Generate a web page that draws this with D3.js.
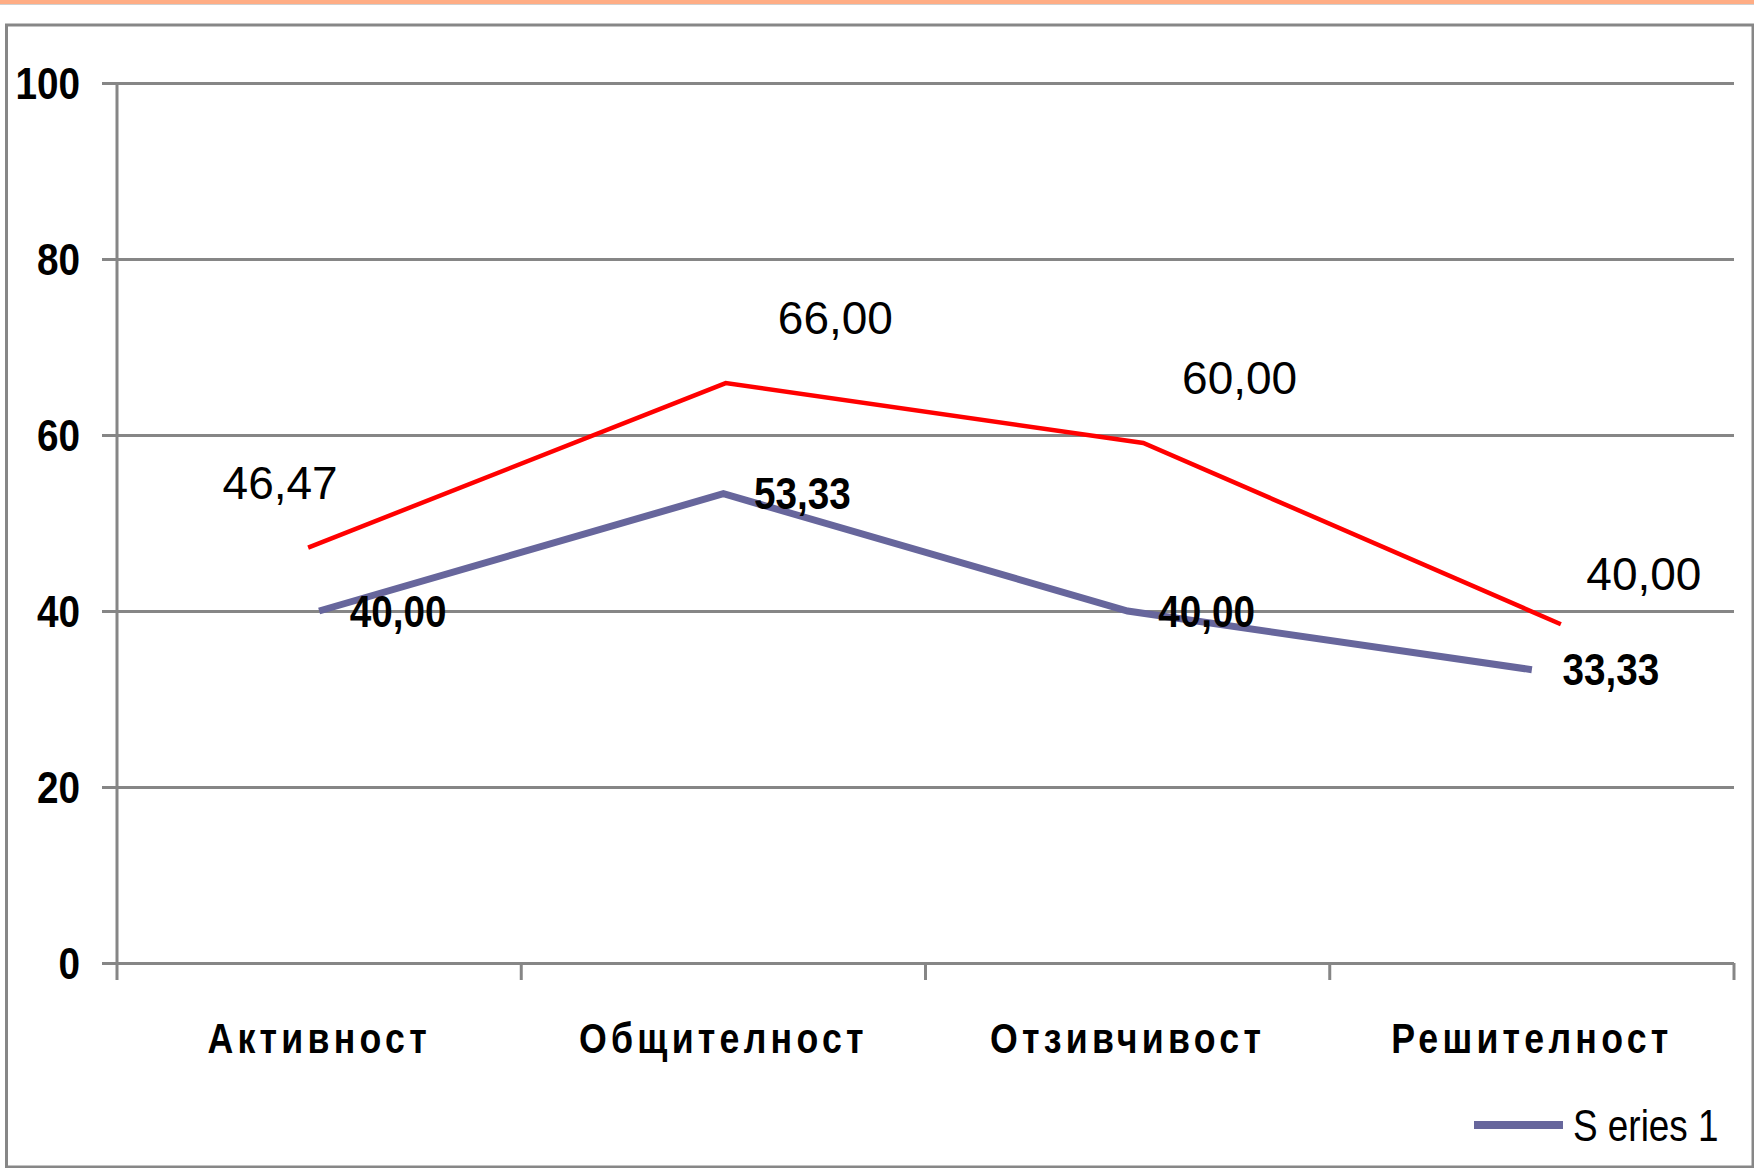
<!DOCTYPE html>
<html>
<head>
<meta charset="utf-8">
<script src="https://cdn.jsdelivr.net/npm/d3@7"></script>
<style>
  html, body { margin: 0; padding: 0; background: #fff; }
  svg { display: block; }
  .grid line { stroke: #868686; stroke-width: 3; }
  .grid path { display: none; }
  .yaxis text { font-family: "Liberation Sans", Arial, sans-serif; font-weight: bold; font-size: 44px; fill: #000; }
  .yaxis line { stroke: #868686; stroke-width: 3; }
  .yaxis path { display: none; }
  .xaxis text { font-family: "Liberation Sans", Arial, sans-serif; font-weight: bold; font-size: 42px; letter-spacing: 5px; fill: #000; }
  .xaxis path, .xaxis line { display: none; }
</style>
</head>
<body>
<div id="chart"></div>
<script>
// data
let categories = ['Активност', 'Общителност', 'Отзивчивост', 'Решителност']
let seriesValues = [40.00, 53.33, 40.00, 33.33]
let seriesLabels = ['40,00', '53,33', '40,00', '33,33']
// the red overlay line, as it is drawn, and the numbers written next to it
let redValues = [47.2, 65.9, 59.1, 38.5]
let redLabels = ['46,47', '66,00', '60,00', '40,00']
let yTicks = [0, 20, 40, 60, 80, 100]
let legendLabel = 'S eries 1'

let W = 1754
let H = 1168

// the original fonts are condensed, so squeeze the text sideways
let squeezeY = 0.88
let squeezeX = 0.85
let squeezeLab = 0.86
let squeezeLeg = 0.82

let svg = d3.select('#chart').append('svg')
    .attr('width', W)
    .attr('height', H)

// frame of the slide
svg.append('rect').attr('x', 0).attr('y', 0).attr('width', W).attr('height', 4).attr('fill', '#ffad85')
svg.append('line').attr('x1', 0).attr('x2', W).attr('y1', 4.5).attr('y2', 4.5).attr('stroke', '#d0d0d0').attr('stroke-width', 1)
svg.append('rect')
    .attr('x', 6.5).attr('y', 25)
    .attr('width', W - 6.5 - 1).attr('height', H - 25 - 1)
    .attr('fill', 'none')
    .attr('stroke', '#878787')
    .attr('stroke-width', 3)

let x = d3.scaleBand()
    .domain(categories)
    .range([117, 1734])
    .paddingInner(0)
    .paddingOuter(0)

let y = d3.scaleLinear()
    .domain([0, 100])
    .range([963, 83])

let xc = function(d) {
    return x(d) + x.bandwidth() / 2
}

// the red line sits a little off the category centres
let xRed = d3.scalePoint()
    .domain(categories)
    .range([xc(categories[0]) - 11, xc(categories[categories.length - 1]) + 29])

// horizontal grid
svg.append('g')
    .attr('class', 'grid')
    .attr('transform', 'translate(117,0)')
    .call(d3.axisLeft(y).tickValues(yTicks).tickSize(-(1734 - 117)).tickFormat(''))

// y axis
let yAxis = svg.append('g')
    .attr('class', 'yaxis')
    .attr('transform', 'translate(117,0)')
    .call(d3.axisLeft(y).tickValues(yTicks).tickSize(15).tickPadding(22))
yAxis.selectAll('text')
    .attr('dy', '0.35em')
    .attr('x', -37 / squeezeY)
    .attr('transform', 'scale(' + squeezeY + ',1)')

svg.append('line')
    .attr('x1', 117).attr('x2', 117)
    .attr('y1', y(100)).attr('y2', y(0) + 17)
    .attr('stroke', '#868686').attr('stroke-width', 3)

// category boundary ticks
let bounds = categories.map(function(d) { return x(d) }).concat([x.range()[1]])
svg.selectAll('.xtick')
    .data(bounds.slice(1))
    .enter().append('line')
    .attr('class', 'xtick')
    .attr('x1', function(d) { return d })
    .attr('x2', function(d) { return d })
    .attr('y1', y(0))
    .attr('y2', y(0) + 17)
    .attr('stroke', '#868686')
    .attr('stroke-width', 3)

// category labels
let xAxis = svg.append('g')
    .attr('class', 'xaxis')
    .attr('transform', 'translate(0,' + y(0) + ')')
    .call(d3.axisBottom(x).tickSize(0).tickPadding(0))
xAxis.selectAll('text')
    .attr('dy', null)
    .attr('y', 90)
    .attr('transform', 'scale(' + squeezeX + ',1)')

// blue series
let blueLine = d3.line()
    .x(function(d, i) { return xc(categories[i]) })
    .y(function(d) { return y(d) })

svg.append('path')
    .datum(seriesValues)
    .attr('d', blueLine)
    .attr('fill', 'none')
    .attr('stroke', '#67669c')
    .attr('stroke-width', 7)

// red overlay
let redLine = d3.line()
    .x(function(d, i) { return xRed(categories[i]) })
    .y(function(d) { return y(d) })

svg.append('path')
    .datum(redValues)
    .attr('d', redLine)
    .attr('fill', 'none')
    .attr('stroke', '#ff0000')
    .attr('stroke-width', 4.5)

// labels of the blue series
svg.selectAll('.blab')
    .data(seriesValues)
    .enter().append('text')
    .attr('class', 'blab')
    .attr('transform', function(d, i) {
        return 'translate(' + (xc(categories[i]) + 79) + ',' + y(d) + ') scale(' + squeezeLab + ',1)'
    })
    .attr('dy', '0.35em')
    .attr('text-anchor', 'middle')
    .style('font-family', '"Liberation Sans", Arial, sans-serif')
    .style('font-weight', 'bold')
    .style('font-size', '45px')
    .text(function(d, i) { return seriesLabels[i] })

// labels of the red line
svg.selectAll('.rlab')
    .data(redValues)
    .enter().append('text')
    .attr('class', 'rlab')
    .attr('x', function(d, i) { return xc(categories[i]) + (i === 0 ? -39 : 112) })
    .attr('y', function(d, i) { return y(d) - (i === redValues.length - 1 ? 50 : 65) })
    .attr('dy', '0.35em')
    .attr('text-anchor', 'middle')
    .style('font-family', '"Liberation Sans", Arial, sans-serif')
    .style('font-size', '46px')
    .text(function(d, i) { return redLabels[i] })

// legend
let legend = svg.append('g').attr('transform', 'translate(1474,1125)')
legend.append('line')
    .attr('x1', 0).attr('x2', 89)
    .attr('y1', 0).attr('y2', 0)
    .attr('stroke', '#67669c')
    .attr('stroke-width', 8)
legend.append('text')
    .attr('transform', 'translate(99,0) scale(' + squeezeLeg + ',1)')
    .attr('dy', '0.35em')
    .style('font-family', '"Liberation Sans", Arial, sans-serif')
    .style('font-size', '45px')
    .text(legendLabel)
</script>
</body>
</html>
